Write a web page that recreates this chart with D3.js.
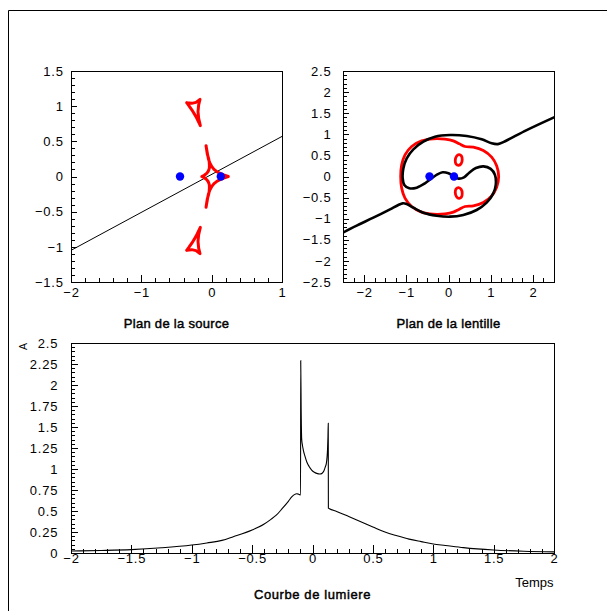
<!DOCTYPE html>
<html>
<head>
<meta charset="utf-8">
<script src="https://cdn.jsdelivr.net/npm/d3@7"></script>
<style>
  html, body { margin: 0; padding: 0; background: #fff; }
  svg { display: block; }
</style>
</head>
<body>
<svg id="fig" width="607" height="611"></svg>
<script>
// ---------- Source plane ----------
const sourceXTicks = [-2, -1, 0, 1];
const sourceYTicks = [-1.5, -1, -0.5, 0, 0.5, 1, 1.5];
const lensPositions = [[-0.45, 0], [0.13, 0]];
const sourceTrack = [[-2, -1.05], [1, 0.57]];
const causticUpper = [
  [-0.355, 1.050], [-0.284, 1.040], [-0.223, 1.054], [-0.166, 1.097],
  [-0.185, 1.017], [-0.194, 0.922], [-0.185, 0.827], [-0.161, 0.723],
  [-0.223, 0.851], [-0.280, 0.945], [-0.327, 1.012], [-0.355, 1.050]
];
const causticLower = [
  [-0.355, -1.050], [-0.284, -1.040], [-0.223, -1.054], [-0.166, -1.097],
  [-0.185, -1.017], [-0.194, -0.922], [-0.185, -0.827], [-0.161, -0.723],
  [-0.223, -0.851], [-0.280, -0.945], [-0.327, -1.012], [-0.355, -1.050]
];
const causticCentral = [
  [0.237, 0], [0.170, 0.022], [0.118, 0.045], [0.070, 0.072], [0.033, 0.102],
  [0.000, 0.145], [-0.024, 0.187], [-0.045, 0.245], [-0.057, 0.306], [-0.080, 0.438],
  [-0.062, 0.320], [-0.045, 0.262], [-0.035, 0.211], [-0.032, 0.160], [-0.033, 0.116],
  [-0.048, 0.075], [-0.071, 0.045], [-0.105, 0.018], [-0.140, 0],
  [-0.105, -0.018], [-0.071, -0.045], [-0.048, -0.075], [-0.033, -0.116], [-0.032, -0.160],
  [-0.035, -0.211], [-0.045, -0.262], [-0.062, -0.320], [-0.080, -0.438],
  [-0.057, -0.306], [-0.045, -0.245], [-0.024, -0.187], [0.000, -0.145], [0.033, -0.102],
  [0.070, -0.072], [0.118, -0.045], [0.170, -0.022], [0.237, 0]
];

// ---------- Lens plane ----------
const lensXTicks = [-2, -1, 0, 1, 2];
const lensYTicks = [-2.5, -2, -1.5, -1, -0.5, 0, 0.5, 1, 1.5, 2, 2.5];
const criticalOuter = [
  [-1.133, 0], [-1.110, 0.276], [-1.031, 0.513], [-0.873, 0.711], [-0.636, 0.845],
  [-0.359, 0.893], [-0.083, 0.885], [0.114, 0.845], [0.257, 0.774], [0.391, 0.711],
  [0.588, 0.695], [0.825, 0.616], [1.023, 0.458], [1.141, 0.253], [1.189, 0],
  [1.141, -0.253], [1.023, -0.458], [0.825, -0.616], [0.588, -0.695], [0.391, -0.711],
  [0.257, -0.774], [0.114, -0.845], [-0.083, -0.885], [-0.359, -0.893], [-0.636, -0.845],
  [-0.873, -0.711], [-1.031, -0.513], [-1.110, -0.276]
];
const criticalUpperOval = [
  [0.25, 0.52], [0.305, 0.49], [0.325, 0.40], [0.30, 0.305], [0.24, 0.265],
  [0.18, 0.295], [0.16, 0.38], [0.19, 0.48]
];
const criticalLowerOval = [
  [0.25, -0.52], [0.305, -0.49], [0.325, -0.40], [0.30, -0.305], [0.24, -0.265],
  [0.18, -0.295], [0.16, -0.38], [0.19, -0.48]
];
const imageTrack = [
  [-2.55, -1.355], [-2.176, -1.165], [-1.781, -0.976], [-1.386, -0.778], [-1.189, -0.675],
  [-1.086, -0.636], [-0.991, -0.652], [-0.833, -0.738], [-0.596, -0.857], [-0.281, -0.928],
  [0.035, -0.952], [0.351, -0.912], [0.667, -0.794], [0.904, -0.620], [1.062, -0.399],
  [1.120, -0.200], [1.100, 0.040], [1.000, 0.180], [0.830, 0.240], [0.650, 0.200],
  [0.490, 0.090], [0.367, -0.020], [0.233, -0.050], [0.130, 0.000], [0.000, 0.075],
  [-0.138, 0.099], [-0.264, 0.051], [-0.400, -0.043], [-0.557, -0.162], [-0.754, -0.265],
  [-0.928, -0.280], [-1.047, -0.200], [-1.086, -0.040], [-1.070, 0.190], [-0.990, 0.430],
  [-0.833, 0.644], [-0.596, 0.826], [-0.320, 0.944], [0.036, 0.984], [0.431, 0.960],
  [0.786, 0.881], [1.023, 0.786], [1.170, 0.768], [1.330, 0.830], [1.852, 1.100],
  [2.55, 1.425]
];

// ---------- Light curve ----------
const timeTicks = [-2, -1.5, -1, -0.5, 0, 0.5, 1, 1.5, 2];
const ampTicks = [0, 0.25, 0.5, 0.75, 1, 1.25, 1.5, 1.75, 2, 2.25, 2.5];
const timeValues = [
  -2, -1.75, -1.5, -1.25, -1, -0.875, -0.75, -0.656, -0.5, -0.4,
  -0.35, -0.3, -0.25, -0.2, -0.17, -0.15, -0.13, -0.115, -0.099, -0.0975,
  -0.094, -0.0897, -0.083, -0.076, -0.062, -0.048, -0.028, -0.007, 0.015, 0.035,
  0.062, 0.080, 0.095, 0.106, 0.115, 0.121, 0.125, 0.128, 0.1305, 0.1315,
  0.14, 0.2, 0.3, 0.4, 0.5, 0.6, 0.7, 0.8, 0.9, 1.0,
  1.1, 1.25, 1.5, 1.75, 2.0
];
const ampValues = [
  0.024, 0.03, 0.04, 0.062, 0.095, 0.12, 0.15, 0.194, 0.274, 0.345,
  0.395, 0.45, 0.53, 0.615, 0.67, 0.695, 0.705, 0.70, 0.69, 2.29,
  1.72, 1.36, 1.28, 1.226, 1.15, 1.087, 1.03, 0.988, 0.962, 0.948,
  0.940, 0.950, 0.980, 1.025, 1.07, 1.15, 1.25, 1.385, 1.544, 0.535,
  0.528, 0.495, 0.434, 0.372, 0.31, 0.25, 0.205, 0.165, 0.135, 0.107,
  0.09, 0.064, 0.036, 0.021, 0.013
];

// ---------- Drawing ----------
const FONT = '"Liberation Sans", Arial, Helvetica, sans-serif';
const fmt = d3.format("~g");
const svg = d3.select("#fig");

// canvas border
svg.append("path").attr("d", "M8.5,611V10.5H607")
  .attr("fill", "none").attr("stroke", "#000").attr("stroke-width", 1);

function frame(box, xDom, yDom, ax, id) {
  const x = d3.scaleLinear().domain(xDom).range([box.x0, box.x1]);
  const y = d3.scaleLinear().domain(yDom).range([box.y1, box.y0]);
  const g = svg.append("g");

  const clip = svg.append("clipPath").attr("id", id);
  clip.append("rect").attr("x", box.x0).attr("y", box.y0)
    .attr("width", box.x1 - box.x0).attr("height", box.y1 - box.y0);

  const styleAxis = s => {
    s.select(".domain").remove();
    s.attr("font-family", FONT).attr("font-size", 13);
    s.selectAll("line").attr("shape-rendering", "crispEdges");
    s.selectAll("text").attr("letter-spacing", "0.8px");
  };

  g.append("g").attr("transform", `translate(0,${box.y1})`)
    .call(d3.axisBottom(x).tickValues(ax.xMinor).tickSize(-ax.xMinorLen).tickFormat(() => ""))
    .call(styleAxis);
  g.append("g").attr("transform", `translate(0,${box.y1})`)
    .call(d3.axisBottom(x).tickValues(ax.xMajor).tickSize(-ax.xMajorLen)
      .tickPadding(ax.xPad).tickFormat(fmt))
    .call(styleAxis);
  g.append("g").attr("transform", `translate(${box.x0},0)`)
    .call(d3.axisLeft(y).tickValues(ax.yMinor).tickSize(-ax.yMinorLen).tickFormat(() => ""))
    .call(styleAxis);
  g.append("g").attr("transform", `translate(${box.x0},0)`)
    .call(d3.axisLeft(y).tickValues(ax.yMajor).tickSize(-ax.yMajorLen)
      .tickPadding(ax.yPad).tickFormat(fmt))
    .call(styleAxis);

  const plot = svg.append("g").attr("clip-path", `url(#${id})`);
  svg.append("rect").attr("x", box.x0 + 0.5).attr("y", box.y0 + 0.5)
    .attr("width", box.x1 - box.x0).attr("height", box.y1 - box.y0)
    .attr("fill", "none").attr("stroke", "#000").attr("stroke-width", 1);
  return { x, y, plot };
}

// panel captions: medium-weight look
function title(txt, x, y, opts = {}) {
  const t = svg.append("text").attr("x", x).attr("y", y)
    .attr("text-anchor", opts.anchor || "middle")
    .attr("font-family", FONT)
    .attr("font-size", opts.size || 13)
    .attr("letter-spacing", opts.spacing || "0.3px")
    .text(txt);
  if (opts.heavy !== false) {
    t.attr("stroke", "#000").attr("stroke-width", 0.45);
  }
}

// --- source plane panel ---
{
  const box = { x0: 71, x1: 282, y0: 71, y1: 282 };
  const { x, y, plot } = frame(box, [-2, 1], [-1.5, 1.5], {
    xMajor: sourceXTicks, xMinor: d3.range(-2, 1.001, 0.2), xMajorLen: 7, xMinorLen: 4, xPad: 6,
    yMajor: sourceYTicks, yMinor: d3.range(-1.5, 1.501, 0.1), yMajorLen: 6, yMinorLen: 3.5, yPad: 7.2
  }, "clipSource");
  const line = d3.line().x(d => x(d[0])).y(d => y(d[1]));
  plot.append("path").attr("d", line(sourceTrack))
    .attr("fill", "none").attr("stroke", "#000").attr("stroke-width", 1);
  [causticUpper, causticLower, causticCentral].forEach(c => {
    plot.append("path").attr("d", line(c))
      .attr("fill", "none").attr("stroke", "#ff0000").attr("stroke-width", 3)
      .attr("stroke-linejoin", "round").attr("stroke-linecap", "round");
  });
  plot.selectAll("circle.lens").data(lensPositions).join("circle")
    .attr("cx", d => x(d[0])).attr("cy", d => y(d[1])).attr("r", 4.2).attr("fill", "#0000ff");
  title("Plan de la source", 176.5, 328);
}

// --- lens plane panel ---
{
  const box = { x0: 343, x1: 554, y0: 71, y1: 282 };
  const { x, y, plot } = frame(box, [-2.5, 2.5], [-2.5, 2.5], {
    xMajor: lensXTicks, xMinor: d3.range(-2.5, 2.501, 0.25), xMajorLen: 7, xMinorLen: 4, xPad: 6,
    yMajor: lensYTicks, yMinor: d3.range(-2.5, 2.501, 0.1), yMajorLen: 6, yMinorLen: 3.5, yPad: 11.5
  }, "clipLens");
  const closed = d3.line().x(d => x(d[0])).y(d => y(d[1])).curve(d3.curveCatmullRomClosed.alpha(0.5));
  const open = d3.line().x(d => x(d[0])).y(d => y(d[1])).curve(d3.curveCatmullRom.alpha(0.5));
  [criticalOuter, criticalUpperOval, criticalLowerOval].forEach(c => {
    plot.append("path").attr("d", closed(c))
      .attr("fill", "none").attr("stroke", "#ff0000").attr("stroke-width", 2.8);
  });
  plot.append("path").attr("d", open(imageTrack))
    .attr("fill", "none").attr("stroke", "#000").attr("stroke-width", 2.6)
    .attr("stroke-linejoin", "round");
  plot.selectAll("circle.lens").data(lensPositions).join("circle")
    .attr("cx", d => x(d[0])).attr("cy", d => y(d[1])).attr("r", 4.2).attr("fill", "#0000ff");
  title("Plan de la lentille", 448.5, 328);
}

// --- light curve panel ---
{
  const box = { x0: 71, x1: 554, y0: 343, y1: 553 };
  const { x, y, plot } = frame(box, [-2, 2], [0, 2.5], {
    xMajor: timeTicks, xMinor: d3.range(-2, 2.001, 0.1), xMajorLen: 8, xMinorLen: 4.5, xPad: 1,
    yMajor: ampTicks, yMinor: d3.range(0, 2.501, 0.05), yMajorLen: 6.5, yMinorLen: 3.5, yPad: 12.7
  }, "clipCurve");
  const pts = timeValues.map((t, i) => [t, ampValues[i]]);
  const line = d3.line().x(d => x(d[0])).y(d => y(d[1])).curve(d3.curveMonotoneX);
  plot.append("path").attr("d", line(pts))
    .attr("fill", "none").attr("stroke", "#000").attr("stroke-width", 1.1);
  title("Courbe de lumiere", 312.5, 599, { spacing: "0.6px" });
  title("Temps", 553.5, 587, { anchor: "end", heavy: false, spacing: "0px" });
  svg.append("text").attr("transform", "translate(27,343) rotate(-90)")
    .attr("text-anchor", "end").attr("font-family", FONT).attr("font-size", 10.5)
    .text("A");
}
</script>
</body>
</html>
